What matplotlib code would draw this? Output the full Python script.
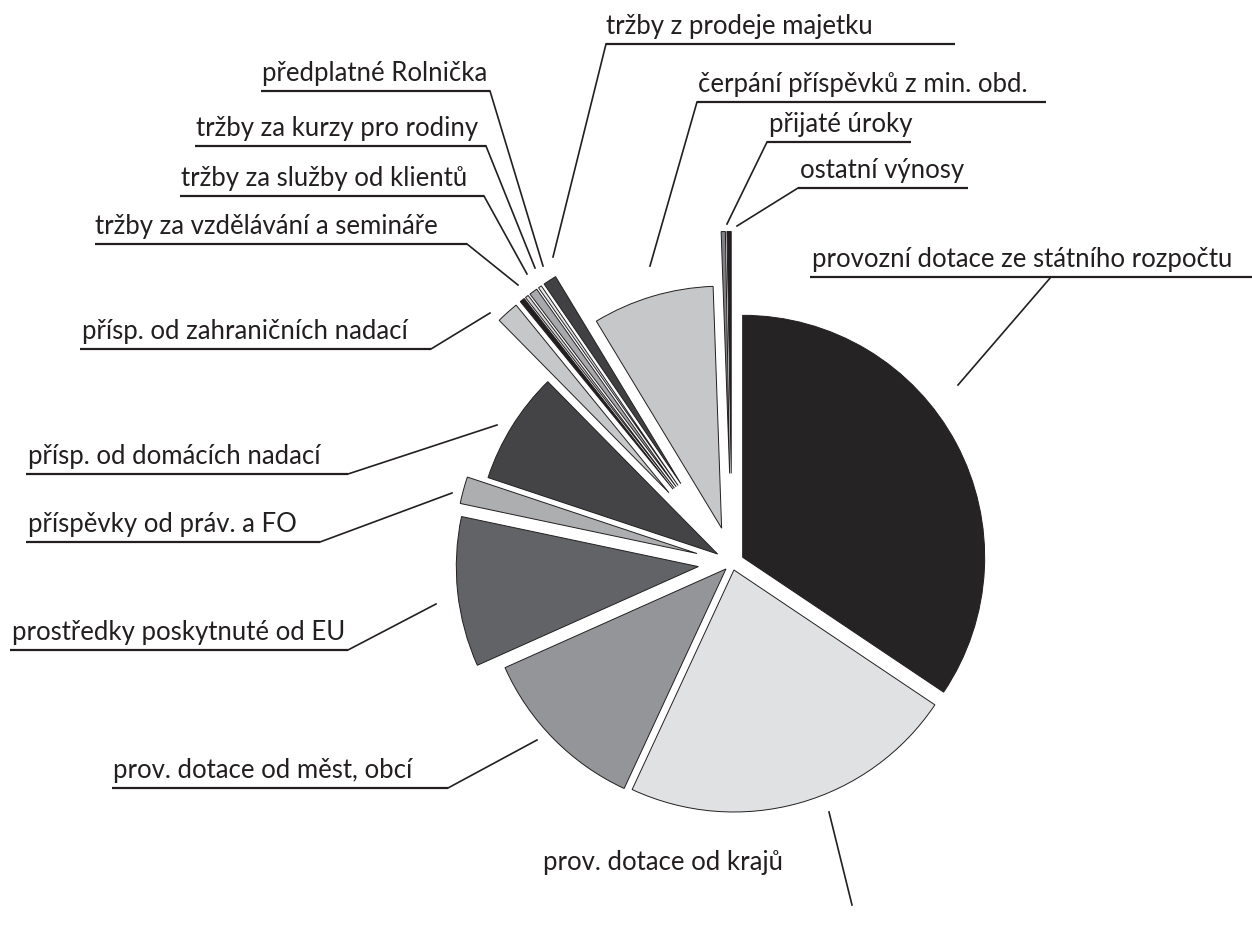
import numpy as np
import matplotlib.pyplot as plt

W, H = 1252, 933

# slice labels, shares (%) and fill colours, clockwise from 12 o'clock
labels = ["provozní dotace ze státního rozpočtu", "prov. dotace od krajů",
          "prov. dotace od měst, obcí", "prostředky poskytnuté od EU",
          "příspěvky od práv. a FO", "přísp. od domácích nadací",
          "přísp. od zahraničních nadací", "tržby za vzdělávání a semináře",
          "tržby za služby od klientů", "tržby za kurzy pro rodiny",
          "předplatné Rolnička", "tržby z prodeje majetku",
          "čerpání příspěvků z min. obd.", "přijaté úroky", "ostatní výnosy"]
values = [34.4, 22.5, 11.4, 10.0, 1.8, 7.5, 1.5, 0.33, 0.22, 0.55, 0.22, 0.9,
          8.1, 0.28, 0.28]
colors = ["#262324", "#e0e1e3", "#939598", "#626366", "#acaeb0", "#444446",
          "#c6c7c9", "#231f20", "#d5d6d8", "#a7a9ac", "#e8e9ea", "#414042",
          "#c6c7c8", "#808285", "#231f20"]
# explosion as a fraction of the radius
explode = [0.05, 0.03, 0.035, 0.14, 0.15, 0.07, 0.39, 0.39, 0.39, 0.39, 0.39,
           0.39, 0.15, 0.37, 0.37]

# label layout in picture pixels: text x, underline y, underline span,
# leader start and leader tip
text_x = [812, 543, 113, 12, 28, 28, 82, 95, 181, 196, 262, 606, 698, 769, 800]
line_y = [277, None, 788, 650, 542, 474, 349, 244, 196, 146, 91, 44, 102, 142, 188]
line_x0 = [810, None, 112, 10, 26, 26, 80, 95, 180, 195, 261, 606, 697, 767, 798]
line_x1 = [1252, None, 448, 348, 320, 348, 431, 467, 484, 486, 490, 955, 1046, 911, 968]
lead_from = [(1051, 277), (852, 905), (448, 788), (348, 650), (320, 542),
             (348, 474), (431, 349), (467, 244), (484, 196), (486, 146),
             (490, 91), (606, 44), (697, 102), (767, 142), (798, 188)]
lead_to = [(958, 385), (829, 812), (537, 740), (436, 604), (452, 493),
           (497, 425), (490, 313), (518, 285), (527, 274), (535, 268),
           (543, 266), (553, 257), (650, 266), (727, 224), (737, 226)]

ink = "#231f20"
cx, cy, R = 732, 563, 242

fig = plt.figure(figsize=(W / 100, H / 100), dpi=100)
ax = fig.add_axes([0, 0, 1, 1])

ax.pie(values, colors=colors, startangle=90, counterclock=False,
       explode=[e * R for e in explode], radius=R, center=(cx, H - cy),
       wedgeprops=dict(edgecolor=ink, linewidth=0.7))

for i, lab in enumerate(labels):
    if line_y[i] is not None:
        ax.plot([line_x0[i], line_x1[i]], [H - line_y[i], H - line_y[i]],
                color=ink, lw=1.6, solid_capstyle="butt")
        base = line_y[i] - 10
    else:
        base = 870
    (x0, y0), (x1, y1) = lead_from[i], lead_to[i]
    ax.plot([x0, x1], [H - y0, H - y1], color=ink, lw=1.2)
    ax.text(text_x[i], H - base, lab, fontsize=18.5, family="Lato",
            color=ink, ha="left", va="baseline")

ax.set_xlim(0, W)
ax.set_ylim(0, H)
ax.set_aspect("auto")
ax.axis("off")

fig.savefig("out.png", dpi=100)
